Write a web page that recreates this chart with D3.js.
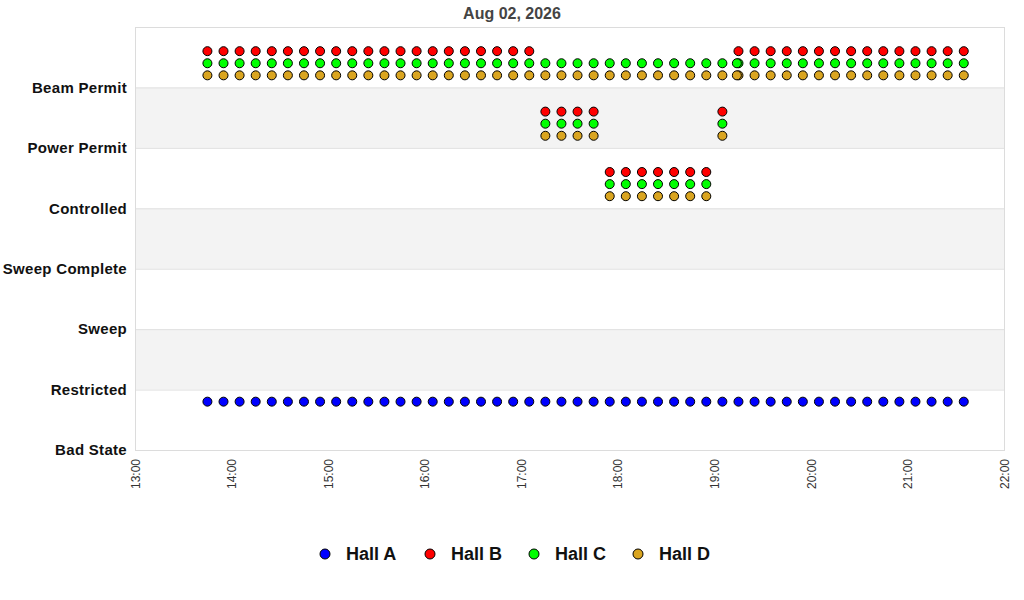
<!DOCTYPE html>
<html>
<head>
<meta charset="utf-8">
<script src="https://cdn.jsdelivr.net/npm/d3@7"></script>
<style>
  body { margin: 0; background: #fff; }
  svg { font-family: "Liberation Sans", Arial, sans-serif; }
  .title { font-size: 16px; font-weight: bold; fill: #444; }
  .ylab { font-size: 15px; font-weight: bold; fill: #111; letter-spacing: 0.3px; }
  .xlab { font-size: 12px; fill: #333; }
  .legend text { font-size: 18px; font-weight: bold; fill: #111; }
</style>
</head>
<body>
<div id="chart"></div>
<script>
// state levels, bottom to top
const categories = ["Bad State", "Restricted", "Sweep", "Sweep Complete",
                    "Controlled", "Power Permit", "Beam Permit"];
const halls = ["Hall A", "Hall B", "Hall C", "Hall D"];
const xTicks = ["13:00", "14:00", "15:00", "16:00", "17:00", "18:00",
                "19:00", "20:00", "21:00", "22:00"];

// sample times
const times = ["13:45", "13:55", "14:05", "14:15", "14:25", "14:35", "14:45", "14:55",
               "15:05", "15:15", "15:25", "15:35", "15:45", "15:55", "16:05", "16:15",
               "16:25", "16:35", "16:45", "16:55", "17:05", "17:15", "17:25", "17:35",
               "17:45", "17:55", "18:05", "18:15", "18:25", "18:35", "18:45", "18:55",
               "19:05", "19:15", "19:25", "19:35", "19:45", "19:55", "20:05", "20:15",
               "20:25", "20:35", "20:45", "20:55", "21:05", "21:15", "21:25", "21:35"];

// state index per sample time (index into categories)
const hallAStates = [1, 1, 1, 1, 1, 1, 1, 1, 1, 1, 1, 1, 1, 1, 1, 1,
                     1, 1, 1, 1, 1, 1, 1, 1, 1, 1, 1, 1, 1, 1, 1, 1,
                     1, 1, 1, 1, 1, 1, 1, 1, 1, 1, 1, 1, 1, 1, 1, 1];
const hallBStates = [6, 6, 6, 6, 6, 6, 6, 6, 6, 6, 6, 6, 6, 6, 6, 6,
                     6, 6, 6, 6, 6, 5, 5, 5, 5, 4, 4, 4, 4, 4, 4, 4,
                     5, 6, 6, 6, 6, 6, 6, 6, 6, 6, 6, 6, 6, 6, 6, 6];
const hallCStates = [6, 6, 6, 6, 6, 6, 6, 6, 6, 6, 6, 6, 6, 6, 6, 6,
                     6, 6, 6, 6, 6, 6, 6, 6, 6, 6, 6, 6, 6, 6, 6, 6,
                     6, 6, 6, 6, 6, 6, 6, 6, 6, 6, 6, 6, 6, 6, 6, 6];
const hallDStates = [6, 6, 6, 6, 6, 6, 6, 6, 6, 6, 6, 6, 6, 6, 6, 6,
                     6, 6, 6, 6, 6, 6, 6, 6, 6, 6, 6, 6, 6, 6, 6, 6,
                     6, 6, 6, 6, 6, 6, 6, 6, 6, 6, 6, 6, 6, 6, 6, 6];

// extra readings logged by Hall C and Hall D
const extraTimes = ["17:15", "17:25", "17:35", "17:45", "17:55", "18:05", "18:15",
                    "18:25", "18:35", "18:45", "18:55", "19:05", "19:14"];
const extraStates = [5, 5, 5, 5, 4, 4, 4, 4, 4, 4, 4, 5, 6];

const colors = { "Hall A": "#0000ff", "Hall B": "#ff0000",
                 "Hall C": "#00ff00", "Hall D": "#daa520" };
const offsets = { "Hall A": -0.2, "Hall B": 0.6, "Hall C": 0.4, "Hall D": 0.2 };

const width = 1024, height = 600;
const margin = { top: 27, right: 20, bottom: 150, left: 135 };

const parse = d3.timeParse("%Y-%m-%d %H:%M");
const t = s => parse("2026-08-02 " + s);

let points = [];
const add = (hall, ts, ss) => ts.forEach((s, i) => points.push({ hall, time: t(s), state: ss[i] }));
add("Hall A", times, hallAStates);
add("Hall B", times, hallBStates);
add("Hall C", times, hallCStates);
add("Hall C", extraTimes, extraStates);
add("Hall D", times, hallDStates);
add("Hall D", extraTimes, extraStates);

const svg = d3.select("#chart").append("svg")
    .attr("width", width).attr("height", height);

const x = d3.scaleTime()
    .domain([t("13:00"), t("22:00")])
    .range([margin.left, width - margin.right]);
const y = d3.scaleLinear()
    .domain([0, categories.length])
    .range([height - margin.bottom, margin.top]);

// alternating bands
svg.append("g").selectAll("rect")
    .data(d3.range(categories.length).filter(i => i % 2 === 1))
    .enter().append("rect")
    .attr("x", x.range()[0]).attr("width", x.range()[1] - x.range()[0])
    .attr("y", i => y(i + 1)).attr("height", i => y(i) - y(i + 1))
    .attr("fill", "#f3f3f3");

// grid lines
svg.append("g").selectAll("line")
    .data(d3.range(1, categories.length))
    .enter().append("line")
    .attr("x1", x.range()[0]).attr("x2", x.range()[1])
    .attr("y1", d => y(d) + 0.5).attr("y2", d => y(d) + 0.5)
    .attr("stroke", "#e0e0e0");

// frame
svg.append("rect")
    .attr("x", x.range()[0] + 0.5).attr("y", y.range()[1] + 0.5)
    .attr("width", x.range()[1] - x.range()[0])
    .attr("height", y.range()[0] - y.range()[1])
    .attr("fill", "none").attr("stroke", "#dcdcdc");

// y labels
svg.append("g").selectAll("text")
    .data(categories).enter().append("text")
    .attr("class", "ylab")
    .attr("x", margin.left - 8).attr("y", (d, i) => y(i))
    .attr("dy", "0.35em").attr("text-anchor", "end")
    .text(d => d);

// x axis
const xAxis = d3.axisBottom(x)
    .tickValues(xTicks.map(t))
    .tickFormat(d3.timeFormat("%H:%M"))
    .tickSize(0);
const gx = svg.append("g")
    .attr("transform", `translate(0,${y.range()[0]})`)
    .call(xAxis);
gx.select(".domain").remove();
gx.selectAll("text")
    .attr("class", "xlab")
    .attr("fill", null)
    .attr("font-family", null).attr("font-size", null)
    .attr("transform", "rotate(-90)")
    .attr("y", 0).attr("x", -9).attr("dy", "0.35em")
    .attr("text-anchor", "end");
gx.selectAll(".tick").attr("transform", d => `translate(${x(d) + 0.5},0)`);

// points
svg.append("g").selectAll("circle")
    .data(points).enter().append("circle")
    .attr("cx", d => x(d.time))
    .attr("cy", d => y(d.state + offsets[d.hall]))
    .attr("r", 4.5)
    .attr("fill", d => colors[d.hall])
    .attr("stroke", "#000").attr("stroke-width", 1);

// title
svg.append("text").attr("class", "title")
    .attr("x", width / 2).attr("y", 19)
    .attr("text-anchor", "middle")
    .text("Aug 02, 2026");

// legend
const legendX = [325, 430, 534, 638];
const legend = svg.append("g").attr("class", "legend")
    .selectAll("g").data(halls).enter().append("g")
    .attr("transform", (d, i) => `translate(${legendX[i]},554)`);
legend.append("circle").attr("r", 5)
    .attr("fill", d => colors[d]).attr("stroke", "#000");
legend.append("text").attr("x", 21).attr("dy", "0.36em").text(d => d);
</script>
</body>
</html>
